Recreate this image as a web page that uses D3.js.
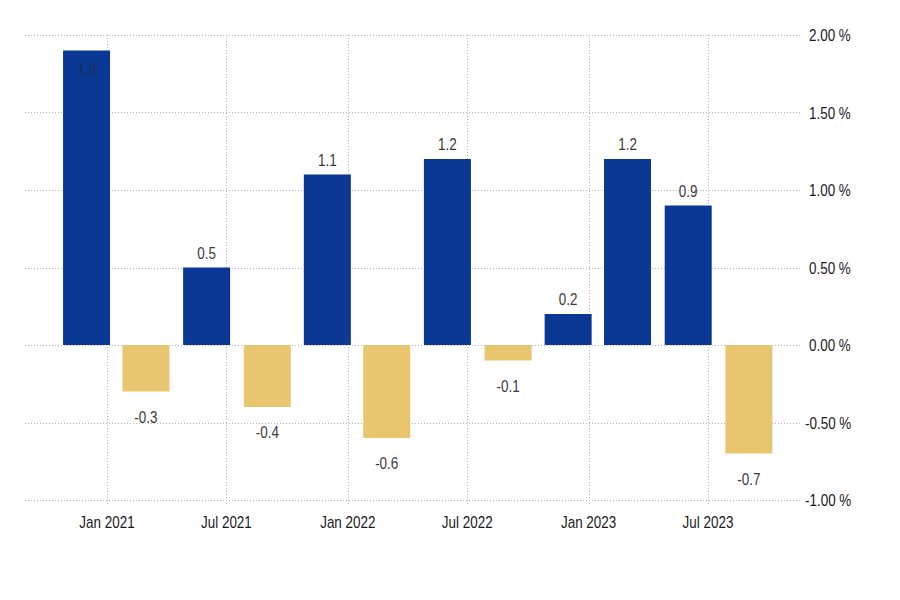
<!DOCTYPE html>
<html>
<head>
<meta charset="utf-8">
<script src="https://cdn.jsdelivr.net/npm/d3@7"></script>
<style>
  body { margin: 0; background: #fff; }
  text { font-family: 'Liberation Sans Narrow', 'Liberation Sans', Arial, sans-serif; }
</style>
</head>
<body>
<div id="chart"></div>
<script>
// quarterly change, %
const periods = ['2020-12', '2021-03', '2021-06', '2021-09', '2021-12', '2022-03',
  '2022-06', '2022-09', '2022-12', '2023-03', '2023-06', '2023-09']
const values = [1.9, -0.3, 0.5, -0.4, 1.1, -0.6, 1.2, -0.1, 0.2, 1.2, 0.9, -0.7]
const yTicks = [2, 1.5, 1, 0.5, 0, -0.5, -1]
const xTicks = ['2021-01', '2021-07', '2022-01', '2022-07', '2023-01', '2023-07']

const width = 900
const height = 600
const parse = d3.timeParse('%Y-%m')
const narrow = 0.84 // squeeze text, narrow font look

// plain hyphen for negatives, like the source
function fmt (v, digits) {
  return (v < 0 ? '-' : '') + Math.abs(v).toFixed(digits)
}

const data = periods.map((p, i) => ({ date: parse(p), value: values[i] }))

const x = d3.scaleTime()
  .domain([parse('2021-01'), parse('2023-07')])
  .range([107, 708])

const y = d3.scaleLinear()
  .domain([-1, 2])
  .range([500, 35])

const svg = d3.select('#chart')
  .append('svg')
  .attr('width', width)
  .attr('height', height)

// grid
svg.append('g')
  .selectAll('line')
  .data(yTicks)
  .enter().append('line')
  .attr('x1', 25)
  .attr('x2', 800)
  .attr('y1', d => Math.round(y(d)) + 0.5)
  .attr('y2', d => Math.round(y(d)) + 0.5)
  .attr('stroke', '#b5b5b5')
  .attr('stroke-dasharray', '1,2')

svg.append('g')
  .selectAll('line')
  .data(xTicks)
  .enter().append('line')
  .attr('x1', d => Math.round(x(parse(d))) + 0.5)
  .attr('x2', d => Math.round(x(parse(d))) + 0.5)
  .attr('y1', 35)
  .attr('y2', 506)
  .attr('stroke', '#b5b5b5')
  .attr('stroke-dasharray', '1,2')

// bars
const barW = 47
svg.append('g')
  .selectAll('rect')
  .data(data)
  .enter().append('rect')
  .attr('x', d => x(d.date) - barW / 2)
  .attr('y', d => y(Math.max(0, d.value)))
  .attr('width', barW)
  .attr('height', d => Math.abs(y(d.value) - y(0)))
  .attr('fill', d => d.value >= 0 ? '#0b3894' : '#e9c56f')

// value labels
svg.append('g')
  .selectAll('text')
  .data(data)
  .enter().append('text')
  .attr('transform', d => {
    let ty
    if (d.value >= 1.8) ty = y(d.value) + 24
    else ty = d.value >= 0 ? y(d.value) - 9 : y(d.value) + 31
    return `translate(${x(d.date)},${ty}) scale(${narrow},1)`
  })
  .attr('text-anchor', 'middle')
  .attr('font-size', 16)
  .attr('fill', d => d.value >= 1.8 ? '#1a2f5c' : '#3a3a3a')
  .text(d => fmt(d.value, 1))

// y axis labels
svg.append('g')
  .selectAll('text')
  .data(yTicks)
  .enter().append('text')
  .attr('transform', d => `translate(${d < 0 ? 805 : 809},${y(d) + 6}) scale(${narrow},1)`)
  .attr('font-size', 16)
  .attr('fill', '#1a1a1a')
  .text(d => fmt(d, 2) + ' %')

// x axis labels
svg.append('g')
  .selectAll('text')
  .data(xTicks)
  .enter().append('text')
  .attr('transform', d => `translate(${x(parse(d))},528) scale(${narrow},1)`)
  .attr('text-anchor', 'middle')
  .attr('font-size', 16)
  .attr('fill', '#1a1a1a')
  .text(d => d3.timeFormat('%b %Y')(parse(d)))
</script>
</body>
</html>
